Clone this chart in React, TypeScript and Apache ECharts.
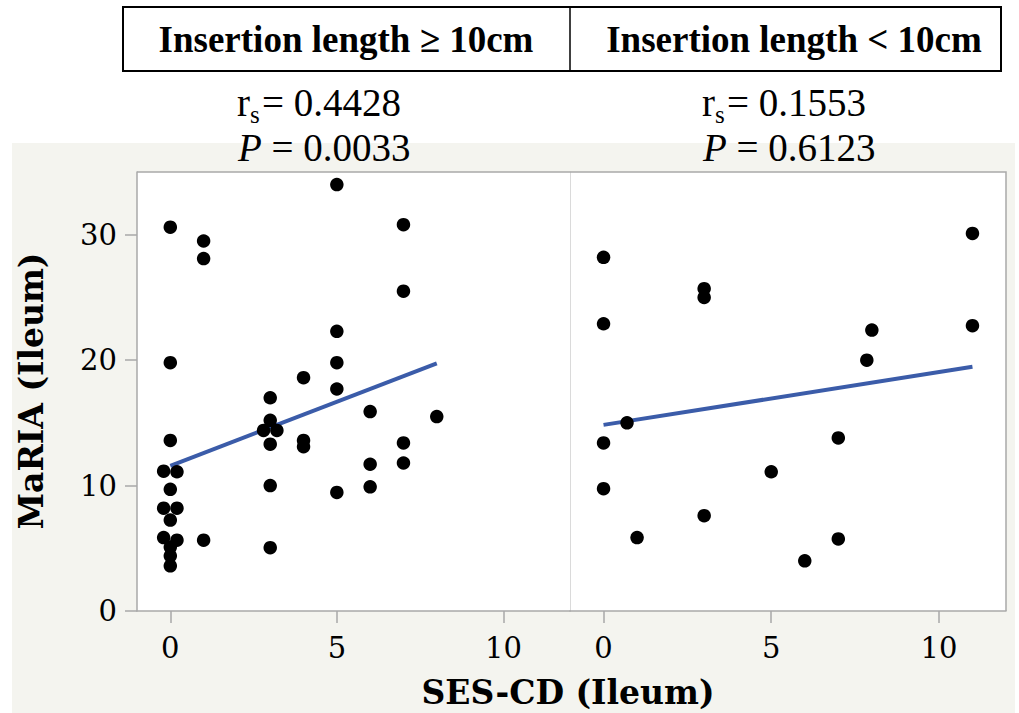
import React, { useEffect, useRef } from "react";
import * as echarts from "echarts";

// ---- data ----
const panelTitles = ["Insertion length ≥ 10cm", "Insertion length < 10cm"];
const rsValues = ["0.4428", "0.1553"];
const pValues = ["0.0033", "0.6123"];

const xTicks = [0, 5, 10];
const yTicks = [0, 10, 20, 30];

// Insertion length >= 10cm (SES-CD jittered as plotted)
const leftSES = [5, 0, 1, 1, 7, 7, 5, 0, 5, 4, 5, 3, 6, 8, 3, 2.8, 3.2, 3, 4, 4, 7, 0, 6, 7, -0.2, 0.2, 3, 6, 0, 5, -0.2, 0.2, 0, -0.2, 0.2, 1, 0, 3, 0, 0];
const leftMaRIA = [34.0, 30.6, 29.5, 28.1, 30.8, 25.5, 22.3, 19.8, 19.8, 18.6, 17.7, 17.0, 15.9, 15.5, 15.2, 14.4, 14.4, 13.3, 13.6, 13.1, 13.4, 13.6, 11.7, 11.8, 11.15, 11.1, 10.0, 9.9, 9.7, 9.45, 8.2, 8.2, 7.25, 5.85, 5.65, 5.65, 5.1, 5.05, 4.4, 3.6];

// Insertion length < 10cm
const rightSES = [11, 0, 3, 3, 0, 11, 8, 7.85, 0.7, 0, 7, 5, 0, 3, 1, 7, 6];
const rightMaRIA = [30.1, 28.2, 25.7, 25.0, 22.9, 22.75, 22.4, 20.0, 15.0, 13.4, 13.8, 11.1, 9.75, 7.6, 5.85, 5.75, 4.0];

// fitted lines (endpoints)
const leftFitX = [0, 8];
const leftFitY = [11.57, 19.74];
const rightFitX = [0, 11];
const rightFitY = [14.84, 19.47];

const zip = (a: number[], b: number[]) => a.map((v, i) => [v, b[i]]);

const AXIS_GRAY = "#a9a9a9";
const TIMES = "Liberation Serif";
const CENTURY = "DejaVu Serif";

const txt = (text: string, family: string, size: number, extra: any = {}) => ({
  text,
  fontFamily: family,
  fontSize: size,
  fill: "#000",
  textVerticalAlign: "middle",
  ...extra,
});

export default function App() {
  const ref = useRef<HTMLDivElement>(null);

  useEffect(() => {
    if (!ref.current) return;
    const chart = echarts.init(ref.current, undefined, { renderer: "svg" });

    const xAxisCommon = (i: number) => ({
      gridIndex: i,
      type: "value",
      min: -1,
      max: 12,
      axisLine: { show: true, onZero: false, lineStyle: { color: AXIS_GRAY, width: 1.5 } },
      axisTick: { show: true, length: 12, customValues: xTicks, lineStyle: { color: AXIS_GRAY, width: 1.5 } },
      axisLabel: { customValues: xTicks, margin: 22, fontFamily: CENTURY, fontSize: 29, color: "#000" },
      splitLine: { show: false },
    });

    const headerTexts: any[] = [];
    const rsLeft = [237, 702];
    [0, 1].forEach((i) => {
      const x0 = rsLeft[i];
      headerTexts.push(
        { type: "text", x: x0, y: 102, style: txt("r", TIMES, 39, { textAlign: "left" }) },
        { type: "text", x: x0 + 13, y: 114, style: txt("s", TIMES, 25, { textAlign: "left" }) },
        { type: "text", x: x0 + 25, y: 102, style: txt("= " + rsValues[i], TIMES, 39, { textAlign: "left" }) },
        {
          type: "text", x: x0 + 1, y: 147,
          style: txt("{i|P} = " + pValues[i], TIMES, 39, {
            textAlign: "left",
            rich: { i: { fontStyle: "italic", fontFamily: TIMES, fontSize: 39 } },
          }),
        }
      );
    });

    const option: any = {
      animation: false,
      grid: [
        { left: 137, top: 172, width: 433, height: 439, show: true, backgroundColor: "#ffffff", borderWidth: 0 },
        { left: 570, top: 172, width: 436, height: 439, show: true, backgroundColor: "#ffffff", borderWidth: 0 },
      ],
      xAxis: [xAxisCommon(0), xAxisCommon(1)],
      yAxis: [
        {
          gridIndex: 0, type: "value", min: 0, max: 35,
          axisLine: { show: true, onZero: false, lineStyle: { color: AXIS_GRAY, width: 1.5 } },
          axisTick: { show: true, length: 12, customValues: yTicks, lineStyle: { color: AXIS_GRAY, width: 1.5 } },
          axisLabel: { customValues: yTicks, margin: 20, fontFamily: CENTURY, fontSize: 29, color: "#000" },
          splitLine: { show: false },
        },
        {
          gridIndex: 1, type: "value", min: 0, max: 35,
          axisLine: { show: true, onZero: false, lineStyle: { color: "#dadada", width: 1 } },
          axisTick: { show: false },
          axisLabel: { show: false },
          splitLine: { show: false },
        },
      ],
      series: [
        {
          type: "line", xAxisIndex: 0, yAxisIndex: 0, data: zip(leftFitX, leftFitY),
          symbol: "none", lineStyle: { color: "#3b5ca9", width: 4 }, z: 3,
        },
        {
          type: "line", xAxisIndex: 1, yAxisIndex: 1, data: zip(rightFitX, rightFitY),
          symbol: "none", lineStyle: { color: "#3b5ca9", width: 4 }, z: 3,
        },
        {
          type: "scatter", xAxisIndex: 0, yAxisIndex: 0, data: zip(leftSES, leftMaRIA),
          symbolSize: 13.5, itemStyle: { color: "#000", opacity: 1 }, z: 4,
        },
        {
          type: "scatter", xAxisIndex: 1, yAxisIndex: 1, data: zip(rightSES, rightMaRIA),
          symbolSize: 13.5, itemStyle: { color: "#000", opacity: 1 }, z: 4,
        },
      ],
      graphic: [
        { type: "rect", z: -10, shape: { x: 12, y: 143, width: 1003, height: 570 }, style: { fill: "#f4f4ef" } },
        { type: "polyline", z: 10, shape: { points: [[137, 172], [1006, 172], [1006, 611]] }, style: { stroke: AXIS_GRAY, lineWidth: 1.5, fill: null } },
        { type: "rect", z: 1, shape: { x: 123, y: 7, width: 878, height: 64 }, style: { fill: "#fff", stroke: "#000", lineWidth: 2 } },
        { type: "line", z: 2, shape: { x1: 570, y1: 7, x2: 570, y2: 71 }, style: { stroke: "#000", lineWidth: 1.5 } },
        { type: "text", z: 2, x: 346, y: 39, style: txt(panelTitles[0], TIMES, 37, { fontWeight: "bold", textAlign: "center" }) },
        { type: "text", z: 2, x: 794, y: 39, style: txt(panelTitles[1], TIMES, 37, { fontWeight: "bold", textAlign: "center" }) },
        ...headerTexts,
        { type: "text", z: 2, x: 568, y: 692, style: txt("SES-CD (Ileum)", CENTURY, 33, { fontWeight: "bold", textAlign: "center" }) },
        { type: "text", z: 2, x: 31, y: 391, rotation: Math.PI / 2, style: txt("MaRIA (Ileum)", CENTURY, 33, { fontWeight: "bold", textAlign: "center" }) },
      ],
    };

    chart.setOption(option);
    return () => chart.dispose();
  }, []);

  return <div ref={ref} style={{ position: "absolute", left: 0, top: 0, width: 1019, height: 713 }} />;
}
